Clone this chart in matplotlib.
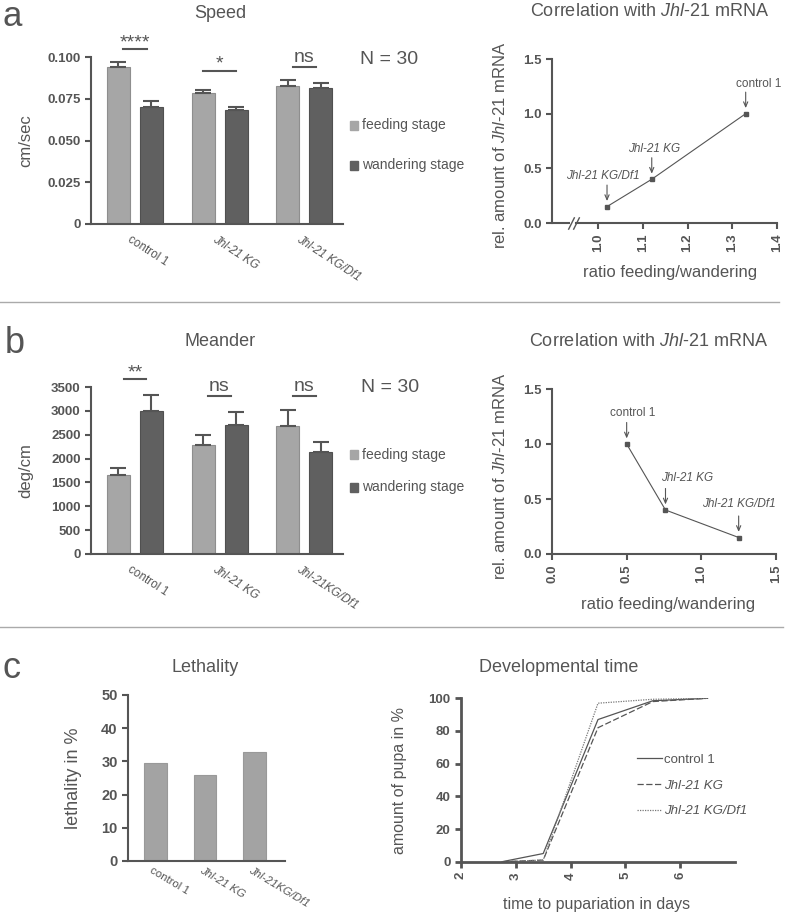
import numpy as np
import matplotlib.pyplot as plt
import matplotlib.transforms as mtransforms
from matplotlib.lines import Line2D
from matplotlib.patches import Rectangle

plt.rcParams['font.family'] = ['Liberation Sans', 'DejaVu Sans']
plt.rcParams['mathtext.fontset'] = 'custom'
plt.rcParams['mathtext.rm'] = 'Liberation Sans'
plt.rcParams['mathtext.it'] = 'Liberation Sans:italic'

GREY = '#555555'
LIGHT = '#a6a6a6'
DARK = '#606060'
W, H = 787, 916

# ---- data ----
genotypes_a = ['control 1', 'Jhl-21 KG', 'Jhl-21 KG/Df1']
genotypes_bc = ['control 1', 'Jhl-21 KG', 'Jhl-21KG/Df1']

speed_feeding = [0.0938, 0.0783, 0.0828]
speed_feeding_err = [0.0030, 0.0020, 0.0032]
speed_wandering = [0.0700, 0.0680, 0.0812]
speed_wandering_err = [0.0038, 0.0022, 0.0033]
speed_sig = ['****', '*', 'ns']

meander_feeding = [1660, 2280, 2680]
meander_feeding_err = [150, 220, 340]
meander_wandering = [2990, 2710, 2140]
meander_wandering_err = [350, 260, 210]
meander_sig = ['**', 'ns', 'ns']

mrna = [1.0, 0.40, 0.15]
speed_ratio = [1.33, 1.12, 1.02]
meander_ratio = [0.50, 0.76, 1.25]

lethality = [29.5, 25.8, 32.7]

days = [2.75, 3.5, 4.5, 5.5, 6.5]
pupa_control = [0, 5, 87, 98.5, 100]
pupa_kg = [0, 1, 82, 98, 100]
pupa_df1 = [0, 1, 97, 99.4, 100]


def fx(px):
    return px / W


def fy(py):
    return 1 - py / H


def style_axes(ax, lw=1.5, tick_fs=9.5):
    for s in ['top', 'right']:
        ax.spines[s].set_visible(False)
    for s in ['left', 'bottom']:
        ax.spines[s].set_color(GREY)
        ax.spines[s].set_linewidth(lw)
    ax.tick_params(colors=GREY, width=lw, length=4, direction='out',
                   labelsize=tick_fs)
    for t in ax.get_xticklabels() + ax.get_yticklabels():
        t.set_fontweight('bold')


fig = plt.figure(figsize=(W / 100, H / 100), dpi=100)


def bar_panel(rect, feed, feed_err, wand, wand_err, labels, ylim, yticks,
              ytlabels, ylabel, sig, sig_y, sig_w):
    ax = fig.add_axes(rect)
    x = np.arange(len(labels))
    ax.bar(x - 0.195, feed, 0.272, color=LIGHT, edgecolor='#8e8e8e', lw=0.8)
    ax.bar(x + 0.195, wand, 0.272, color=DARK, edgecolor='#505050', lw=0.8)
    ax.errorbar(x - 0.195, feed, yerr=[np.zeros(len(x)), feed_err], fmt='none',
                ecolor=GREY, elinewidth=1.5, capsize=5.5, capthick=1.5)
    ax.errorbar(x + 0.195, wand, yerr=[np.zeros(len(x)), wand_err], fmt='none',
                ecolor=GREY, elinewidth=1.5, capsize=5.5, capthick=1.5)
    ax.set_xlim(-0.52, 2.46)
    ax.set_ylim(*ylim)
    ax.set_yticks(yticks)
    ax.set_yticklabels(ytlabels)
    ax.set_xticks(x)
    ax.set_xticklabels(labels, rotation=-33, ha='left', va='top',
                       rotation_mode='anchor', fontsize=8.5, color=GREY)
    style_axes(ax)
    ax.tick_params(axis='x', length=0, pad=7)
    off = mtransforms.ScaledTranslation(-0.03, 0, fig.dpi_scale_trans)
    for i, t in enumerate(ax.get_xticklabels()):
        t.set_fontweight('normal')
        t.set_fontsize(8.5)
        t.set_transform(t.get_transform() + off)
        if i > 0:
            t.set_fontstyle('italic')
    ax.set_ylabel(ylabel, fontsize=12, color=GREY)
    ax.yaxis.set_label_coords(-0.23, 0.5)
    for xi, s, yy, w in zip(x, sig, sig_y, sig_w):
        ax.plot([xi - w / 2, xi + w / 2], [yy, yy], color=GREY, lw=1.5,
                clip_on=False)
        dy = 1.5 if '*' in s else 3.5
        ax.annotate(s, (xi, yy), xytext=(0, dy), textcoords='offset points',
                    ha='center', va='baseline', fontsize=14, color=GREY,
                    annotation_clip=False)
    return ax


def bar_legend(y1, y2):
    for y, c, lab in [(y1, LIGHT, 'feeding stage'), (y2, DARK, 'wandering stage')]:
        fig.add_artist(Rectangle((fx(350), fy(y + 4.5)), 8 / W, 9 / H,
                                 transform=fig.transFigure, color=c))
        fig.text(fx(362), fy(y), lab, va='center', fontsize=10, color=GREY)


def corr_panel(rect, xs, ys, xlim, xticks, xtlabels, offsets):
    ax = fig.add_axes(rect)
    ax.plot(xs, ys, color=GREY, lw=0.8, marker='s', ms=3, mfc=GREY, mec=GREY,
            clip_on=False)
    ax.set_xlim(*xlim)
    ax.set_ylim(0, 1.5)
    ax.set_xticks(xticks)
    ax.set_xticklabels(xtlabels, rotation=90)
    ax.set_yticks([0, 0.5, 1.0, 1.5])
    ax.set_yticklabels(['0.0', '0.5', '1.0', '1.5'])
    style_axes(ax)
    names = ['control 1', 'Jhl-21 KG', 'Jhl-21 KG/Df1']
    for i, (name, x, y, (dx, dy)) in enumerate(zip(names, xs, ys, offsets)):
        ax.annotate('', xy=(x, y), xytext=(0, 15.5), textcoords='offset points',
                    arrowprops=dict(arrowstyle='->,head_length=0.35,head_width=0.15',
                                    color=GREY, lw=0.8, shrinkA=0, shrinkB=4))
        ax.annotate(name, xy=(x, y), xytext=(dx, dy), textcoords='offset points',
                    ha='center', va='center', fontsize=8.5, color=GREY,
                    style='italic' if i > 0 else 'normal')
    ax.set_ylabel('rel. amount of $\\mathit{Jhl}$-$\\mathit{21}$ mRNA',
                  fontsize=12, color=GREY)
    ax.yaxis.set_label_coords(-0.196, 0.47)
    ax.set_xlabel('ratio feeding/wandering', fontsize=12, color=GREY)
    return ax


# ---- panel a ----
fig.text(fx(3), fy(26), 'a', fontsize=25, color=GREY, va='baseline')
fig.text(fx(220), fy(13), 'Speed', fontsize=13, color=GREY, ha='center', va='center')
fig.text(fx(650), fy(12), 'Correlation with $\\mathit{Jhl}$-$\\mathit{21}$ mRNA',
         fontsize=13, color=GREY, ha='center', va='center')

bar_panel([fx(91), fy(224), (343 - 91) / W, 167 / H],
          speed_feeding, speed_feeding_err, speed_wandering, speed_wandering_err,
          genotypes_a, (0, 0.1), [0, 0.025, 0.05, 0.075, 0.1],
          ['0', '0.025', '0.050', '0.075', '0.100'], 'cm/sec', speed_sig,
          [0.1046, 0.0916, 0.094], [0.28, 0.38, 0.27])
fig.text(fx(360), fy(60), 'N = 30', fontsize=14, color=GREY, va='center')
bar_legend(125, 165)

ax_ar = corr_panel([fx(552), fy(223), 225 / W, 164 / H], speed_ratio, mrna,
                   (0.897, 1.4), [1.0, 1.1, 1.2, 1.3, 1.4],
                   ['1.0', '1.1', '1.2', '1.3', '1.4'],
                   [(9.4, 21.6), (1.4, 21.6), (-2.9, 22.3)])
ax_ar.xaxis.set_label_coords(0.524, -0.255)
ax_ar.spines['bottom'].set_bounds(0.95, 1.4)
blend = mtransforms.blended_transform_factory(ax_ar.transData, ax_ar.transAxes)
ax_ar.plot([0.897, 0.937], [0, 0], color=GREY, lw=1.5, transform=blend,
           clip_on=False, solid_capstyle='butt')
ax_ar.plot([0.939, 0.950], [0, 0], ls='none', marker=[(-1, -2), (1, 2)], ms=9,
           mew=1.0, color=GREY, transform=blend, clip_on=False)

fig.add_artist(Line2D([0, 0.99], [fy(302), fy(302)], color='#aaaaaa', lw=1))

# ---- panel b ----
fig.text(fx(5), fy(353), 'b', fontsize=26, color=GREY, va='baseline')
fig.text(fx(220), fy(342), 'Meander', fontsize=13, color=GREY, ha='center', va='center')
fig.text(fx(649), fy(342), 'Correlation with $\\mathit{Jhl}$-$\\mathit{21}$ mRNA',
         fontsize=13, color=GREY, ha='center', va='center')

bar_panel([fx(91), fy(554), (343 - 91) / W, 167 / H],
          meander_feeding, meander_feeding_err, meander_wandering,
          meander_wandering_err, genotypes_bc, (0, 3500),
          list(range(0, 3501, 500)), [str(v) for v in range(0, 3501, 500)],
          'deg/cm', meander_sig, [3660, 3310, 3310], [0.27, 0.27, 0.27])
fig.text(fx(361), fy(387), 'N = 30', fontsize=14, color=GREY, va='center')
bar_legend(455, 487)

ax_br = corr_panel([fx(552), fy(554), 224 / W, 165 / H], meander_ratio, mrna,
                   (0, 1.5), [0, 0.5, 1.0, 1.5], ['0.0', '0.5', '1.0', '1.5'],
                   [(4.3, 22.3), (15.8, 23.0), (0, 24.0)])
ax_br.xaxis.set_label_coords(0.52, -0.26)

fig.add_artist(Line2D([0, 0.995], [fy(627), fy(627)], color='#aaaaaa', lw=1))

# ---- panel c ----
fig.text(fx(3), fy(678), 'c', fontsize=26, color=GREY, va='baseline')
fig.text(fx(205), fy(668), 'Lethality', fontsize=13, color=GREY, ha='center', va='center')
fig.text(fx(559), fy(668), 'Developmental time', fontsize=13, color=GREY,
         ha='center', va='center')

ax_cl = fig.add_axes([fx(128), fy(861), 157 / W, 166 / H])
xc = np.arange(len(genotypes_bc))
ax_cl.bar(xc, lethality, 0.46, color='#a3a3a3', edgecolor='#999999', lw=0.8)
ax_cl.set_xlim(-0.556, 2.62)
ax_cl.set_ylim(0, 50)
ax_cl.set_yticks(range(0, 51, 10))
ax_cl.set_xticks(xc)
ax_cl.set_xticklabels(genotypes_bc, rotation=-31, ha='left', va='top',
                      rotation_mode='anchor', color=GREY)
style_axes(ax_cl, tick_fs=10.5)
ax_cl.tick_params(axis='x', length=0, pad=3)
off = mtransforms.ScaledTranslation(-0.02, 0, fig.dpi_scale_trans)
for i, t in enumerate(ax_cl.get_xticklabels()):
    t.set_fontweight('normal')
    t.set_fontsize(8.2)
    t.set_transform(t.get_transform() + off)
    if i > 0:
        t.set_fontstyle('italic')
ax_cl.set_ylabel('lethality in %', fontsize=13, color=GREY)
ax_cl.yaxis.set_label_coords(-0.293, 0.5)

ax_cr = fig.add_axes([fx(461), fy(861.7), 274 / W, 163.4 / H])
ax_cr.plot(days, pupa_control, color=GREY, lw=0.9, label='control 1')
ax_cr.plot(days, pupa_kg, color=GREY, lw=0.9, ls=(0, (5, 2)), label='Jhl-21 KG')
ax_cr.plot(days, pupa_df1, color='#777777', lw=0.9, ls=(0, (1, 1)),
           label='Jhl-21 KG/Df1')
ax_cr.set_xlim(2, 7)
ax_cr.set_ylim(0, 100)
ax_cr.set_xticks([2, 3, 4, 5, 6])
ax_cr.set_xticklabels(['2', '3', '4', '5', '6'], rotation=90)
ax_cr.set_yticks(range(0, 101, 20))
style_axes(ax_cr, lw=2.0)
ax_cr.set_ylabel('amount of pupa in %', fontsize=11.5, color=GREY)
ax_cr.yaxis.set_label_coords(-0.197, 0.5)
ax_cr.set_xlabel('time to pupariation in days', fontsize=11.5, color=GREY)
ax_cr.xaxis.set_label_coords(0.496, -0.215)
leg = ax_cr.legend(loc='upper left', bbox_to_anchor=(0.642, 0.66), frameon=False,
                   fontsize=9.5, handlelength=1.9, handletextpad=0.15,
                   labelspacing=1.02, borderpad=0, borderaxespad=0,
                   labelcolor=GREY)
for i, t in enumerate(leg.get_texts()):
    if i > 0:
        t.set_fontstyle('italic')

plt.savefig('out.png', dpi=100)
